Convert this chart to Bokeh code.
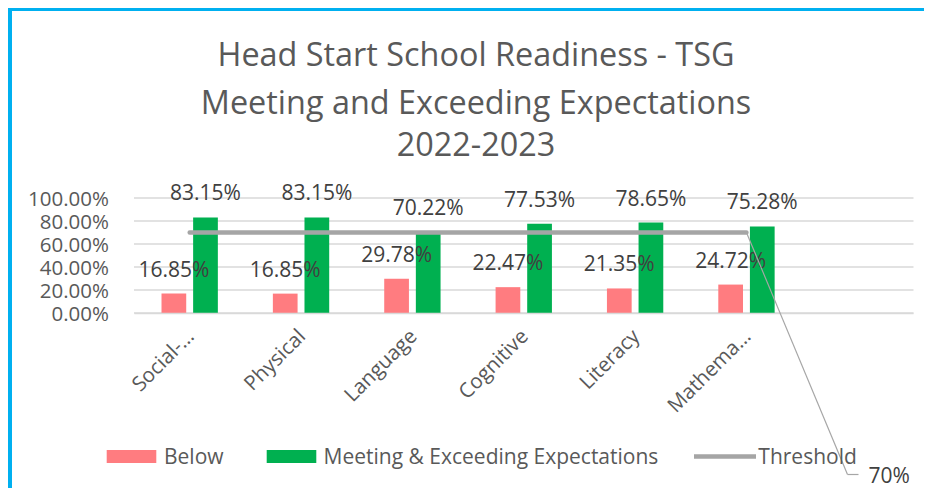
import math
from bokeh.plotting import figure
from bokeh.models import (ColumnDataSource, Range1d, FixedTicker,
                          NumeralTickFormatter, LabelSet, Label, Arrow, Legend, LegendItem)
from bokeh.core.properties import value
from bokeh.transform import dodge
from bokeh.embed import file_html
from bokeh.resources import INLINE

# ---- data ----
categories = ["Social-…", "Physical", "Language", "Cognitive", "Literacy", "Mathema…"]
n_slots = 7  # the category axis has one empty slot after the last category
below = [0.1685, 0.1685, 0.2978, 0.2247, 0.2135, 0.2472]
meeting = [0.8315, 0.8315, 0.7022, 0.7753, 0.7865, 0.7528]
threshold = [0.70, 0.70, 0.70, 0.70, 0.70, 0.70]
y_ticks = [0.0, 0.2, 0.4, 0.6, 0.8, 1.0]
title_lines = ["Head Start School Readiness - TSG",
               "Meeting and Exceeding Expectations",
               "2022-2023"]
series_names = ["Below", "Meeting & Exceeding Expectations", "Threshold"]

FONT = "Open Sans"
TXT = "#595959"
LBL = "#404040"
GRID = "#D9D9D9"

positions = list(range(1, len(categories) + 1))
src = ColumnDataSource(dict(
    pos=positions,
    below=below,
    meeting=meeting,
    threshold=threshold,
    below_lbl=[f"{v*100:.2f}%" for v in below],
    meeting_lbl=[f"{v*100:.2f}%" for v in meeting],
))
grid_src = ColumnDataSource(dict(
    x0=[0.5] * len(y_ticks), x1=[n_slots + 0.5] * len(y_ticks), y=y_ticks))

# frame covers the whole canvas; axes are pinned inside it
px_per_slot = 779.5 / n_slots
x_start = 0.5 - 113.5 / px_per_slot
x_end = 0.5 + 794.5 / px_per_slot
y_start = (312.5 - 491) / 115
y_end = (312.5 - 11) / 115

p = figure(width=916, height=480,
           x_range=Range1d(x_start, x_end), y_range=Range1d(y_start, y_end),
           output_backend="svg", toolbar_location=None, title_location=None,
           min_border_left=8, min_border_right=0, min_border_top=0, min_border_bottom=0,
           outline_line_color=None,
           styles={"margin-left": "8px", "margin-top": "8px",
                   "border-left": "4px solid #00B0F0", "border-top": "3px solid #00B0F0"})

p.xgrid.visible = False
p.ygrid.visible = False
p.segment(x0="x0", x1="x1", y0="y", y1="y", source=grid_src,
          line_color=GRID, line_width=1.3)

yax = p.yaxis[0]
yax.fixed_location = 0.5
yax.bounds = (0, 1)
yax.ticker = FixedTicker(ticks=y_ticks)
yax.formatter = NumeralTickFormatter(format="0.00%")
yax.axis_line_color = None
yax.major_tick_line_color = None
yax.minor_tick_line_color = None
yax.major_label_standoff = 19
yax.major_label_text_font = FONT
yax.major_label_text_font_size = "20.5px"
yax.major_label_text_color = TXT

xax = p.xaxis[0]
xax.fixed_location = 0
xax.bounds = (0.5, n_slots + 0.5)
xax.ticker = FixedTicker(ticks=positions)
xax.major_label_overrides = {pp: c for pp, c in zip(positions, categories)}
xax.axis_line_color = GRID
xax.axis_line_width = 1.3
xax.major_tick_line_color = None
xax.minor_tick_line_color = None
xax.major_label_orientation = math.pi / 4
xax.major_label_standoff = 13
xax.major_label_text_font = FONT
xax.major_label_text_font_size = "20.5px"
xax.major_label_text_color = TXT

off = 0.142
bw = 0.222
r_below = p.vbar(x=dodge("pos", -off), top="below", width=bw,
                 source=src, fill_color="#FF7C80", line_color=None)
r_meet = p.vbar(x=dodge("pos", off), top="meeting", width=bw,
                source=src, fill_color="#00B050", line_color=None)
r_thr = p.line(x="pos", y="threshold", source=src, line_color="#A5A5A5",
               line_width=4.5, line_cap="round")

for field, lbl, dx in (("below", "below_lbl", -off), ("meeting", "meeting_lbl", off)):
    p.add_layout(LabelSet(x=dodge("pos", dx), y=field, text=lbl,
                          source=src, text_align="center", text_baseline="middle",
                          y_offset=25, text_font=value(FONT), text_font_size="21px",
                          text_color=LBL))

# title lines (screen units from the frame's bottom-left)
for txt, yy in zip(title_lines, [439, 391, 348]):
    p.add_layout(Label(x=455.5, y=yy, x_units="screen", y_units="screen", text=txt,
                       text_align="center", text_baseline="middle",
                       text_font=FONT, text_font_size="32.4px", text_color=TXT))

# threshold data label with leader line
p.add_layout(Arrow(end=None, x_start=positions[-1], y_start=threshold[-1],
                   start_units="data", x_end=827, y_end=17, end_units="screen",
                   line_color="#A6A6A6", line_width=1.2))
p.add_layout(Arrow(end=None, x_start=827, y_start=17, start_units="screen",
                   x_end=838, y_end=17, end_units="screen",
                   line_color="#A6A6A6", line_width=1.2))
p.add_layout(Label(x=848, y=17, x_units="screen", y_units="screen",
                   text=f"{threshold[-1]*100:.0f}%", text_align="left",
                   text_baseline="middle", text_font=FONT, text_font_size="21px",
                   text_color=LBL))

legend = Legend(items=[LegendItem(label=series_names[0], renderers=[r_below]),
                       LegendItem(label=series_names[1], renderers=[r_meet]),
                       LegendItem(label=series_names[2], renderers=[r_thr])],
                orientation="horizontal", location=(80, 21),
                glyph_width=62, glyph_height=16, label_standoff=2, spacing=36,
                padding=0, margin=0, border_line_color=None,
                background_fill_alpha=0, label_text_font=FONT,
                label_text_font_size="21px", label_text_color=TXT)
p.add_layout(legend)

open("out.html", "w").write(file_html(p, INLINE))
